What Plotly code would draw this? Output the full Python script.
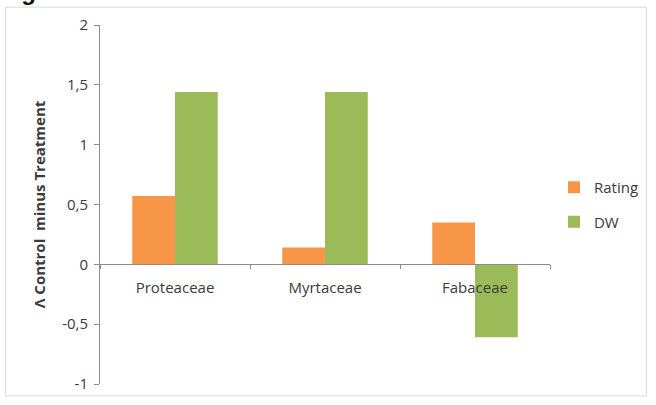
import plotly.graph_objects as go

# Families and the two measured differences (control minus treatment)
families = ["Proteaceae", "Myrtaceae", "Fabaceae"]
rating = [0.57, 0.14, 0.35]
dw = [1.44, 1.44, -0.61]
y_ticks = [-1, -0.5, 0, 0.5, 1, 1.5, 2]
y_tick_text = ["-1", "-0,5", "0", "0,5", "1", "1,5", "2"]

W, H = 656, 405
L, R, T, B = 100, 103, 25, 18
plot_w = W - L - R
plot_h = H - T - B
zero_pos = (0 - (-1)) / (2 - (-1))  # fraction of the y domain where y = 0 sits

axis_grey = "#8c8c8c"
text_col = "#3a3a3a"
font_family = "Open Sans, Lato, sans-serif"


def px_to_paper_x(px):
    return (px - L) / plot_w


def px_to_paper_y(py):
    return (H - B - py) / plot_h


fig = go.Figure()
fig.add_trace(go.Bar(x=families, y=rating, name="Rating",
                     marker=dict(color="#F79646", line_width=0),
                     legendgroup="a"))
fig.add_trace(go.Bar(x=families, y=dw, name="DW",
                     marker=dict(color="#9BBB59", line_width=0),
                     legendgroup="b"))

# light chart frame around the whole graphic
fig.add_shape(type="rect", xref="paper", yref="paper",
              x0=px_to_paper_x(5), x1=px_to_paper_x(650),
              y0=px_to_paper_y(399), y1=px_to_paper_y(7),
              line=dict(color="#d9d9d9", width=1), fillcolor="rgba(0,0,0,0)",
              layer="below")

# heading text running off the top edge
fig.add_annotation(text="<b>Fig</b>", xref="paper", yref="paper",
                   x=px_to_paper_x(-2), y=px_to_paper_y(6),
                   xanchor="left", yanchor="bottom", showarrow=False,
                   font=dict(family="Liberation Sans, Arial", size=24, color="#111"),
                   borderpad=0)

fig.update_layout(
    width=W, height=H,
    margin=dict(l=L, r=R, t=T, b=B),
    paper_bgcolor="white", plot_bgcolor="white",
    barmode="group", bargap=0.43, bargroupgap=0,
    font=dict(family=font_family, size=15, color=text_col),
    showlegend=True,
    legend=dict(x=px_to_paper_x(557), y=0.5, xanchor="left", yanchor="middle",
                traceorder="grouped", tracegroupgap=12, itemwidth=30,
                font=dict(size=15, color=text_col), bgcolor="rgba(0,0,0,0)"),
    xaxis=dict(anchor="free", position=zero_pos, showline=True,
               linecolor=axis_grey, linewidth=1, ticks="outside",
               tickson="boundaries", ticklen=4, tickcolor=axis_grey,
               showgrid=False, zeroline=False, ticklabelstandoff=10,
               tickfont=dict(size=15, color=text_col)),
    yaxis=dict(range=[-1, 2], tickvals=y_ticks, ticktext=y_tick_text,
               showline=True, linecolor=axis_grey, linewidth=1,
               ticks="outside", ticklen=5, tickcolor=axis_grey,
               showgrid=False, zeroline=False, ticklabelstandoff=3,
               tickfont=dict(size=15, color=text_col),
               title=dict(text="<b>Λ Control  minus Treatment</b>",
                          standoff=12,
                          font=dict(size=15, color=text_col))),
)

fig.write_html("out.html")
